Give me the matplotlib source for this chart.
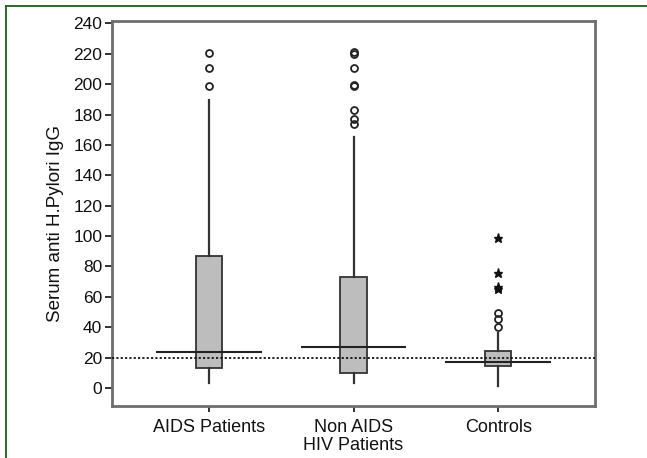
import matplotlib
matplotlib.use("Agg")
import matplotlib.pyplot as plt
from matplotlib.lines import Line2D

plt.rcParams['font.family'] = ['Liberation Sans', 'DejaVu Sans']

categories = ["AIDS Patients", "Non AIDS\nHIV Patients", "Controls"]
q1 = [13.0, 9.7, 14.5]
medians = [23.7, 27.2, 17.1]
q3 = [86.9, 73.3, 24.4]
whislo = [3.5, 3.5, 1.5]
whishi = [189.6, 165.0, 36.4]
outliers_circle = [
    [220.3, 210.4, 198.8],
    [220.0, 221.0, 210.4, 198.8, 199.5, 183.0, 177.3, 173.8],
    [49.6, 45.2, 40.4],
]
outliers_star = [[], [], [99.0, 75.9, 66.7, 65.2]]
reference_value = 20

fig = plt.figure(figsize=(6.47, 4.58), dpi=100)
ax = fig.add_axes([112/647, 1 - 406/458, (595-112)/647, (406-21)/458])

positions = [1, 2, 3]
stats = []
for i in range(3):
    stats.append(dict(q1=q1[i], med=medians[i], q3=q3[i], whislo=whislo[i],
                      whishi=whishi[i], fliers=outliers_circle[i], label=categories[i]))

edge = "#333333"
ax.bxp(stats, positions=positions, widths=0.18, patch_artist=True,
       showcaps=False, showfliers=True,
       boxprops=dict(facecolor="#bdbdbd", edgecolor=edge, linewidth=1.3),
       whiskerprops=dict(color=edge, linewidth=1.6),
       medianprops=dict(visible=False),
       flierprops=dict(marker='o', markerfacecolor='none', markeredgecolor='#222222',
                       markersize=5, markeredgewidth=1.3))

# long median lines
ax.hlines(medians, [p - 0.365 for p in positions], [p + 0.365 for p in positions],
          colors="#222222", linewidth=1.5, zorder=4)

# extreme outliers (stars)
for p, vals in zip(positions, outliers_star):
    if vals:
        ax.plot([p] * len(vals), vals, linestyle='none', marker='*',
                color='#111111', markersize=6.5, zorder=5)

ax.axhline(reference_value, color='#111111', linestyle=(0, (1.2, 1.2)), linewidth=1.3, zorder=3)

ax.set_xlim(0.333, 3.667)
ax.set_ylim(-11.85, 241.6)
ax.set_yticks(range(0, 241, 20))
ax.set_xticks(positions)
ax.set_xticklabels(categories, fontsize=13, linespacing=1.1)
ax.tick_params(axis='y', labelsize=12.5, colors='#111111', direction='out', length=5, width=1.2, pad=2)
ax.tick_params(axis='x', colors='#111111', direction='out', length=4, width=1.2, pad=5)
for s in ax.spines.values():
    s.set_color('#6e6e6e')
    s.set_linewidth(2)
ax.set_ylabel("Serum anti H.Pylori IgG", fontsize=13.5, color='#111111')
ax.yaxis.set_label_coords(-0.099, 0.473)

# green border of the figure
green = "#1e5c1e"
fig.add_artist(Line2D([6/647, 6/647], [0, 1 - 6/458], transform=fig.transFigure, color=green, linewidth=1.3))
fig.add_artist(Line2D([6/647, 1], [1 - 6/458, 1 - 6/458], transform=fig.transFigure, color=green, linewidth=1.3))

fig.savefig("out.png", dpi=100)
